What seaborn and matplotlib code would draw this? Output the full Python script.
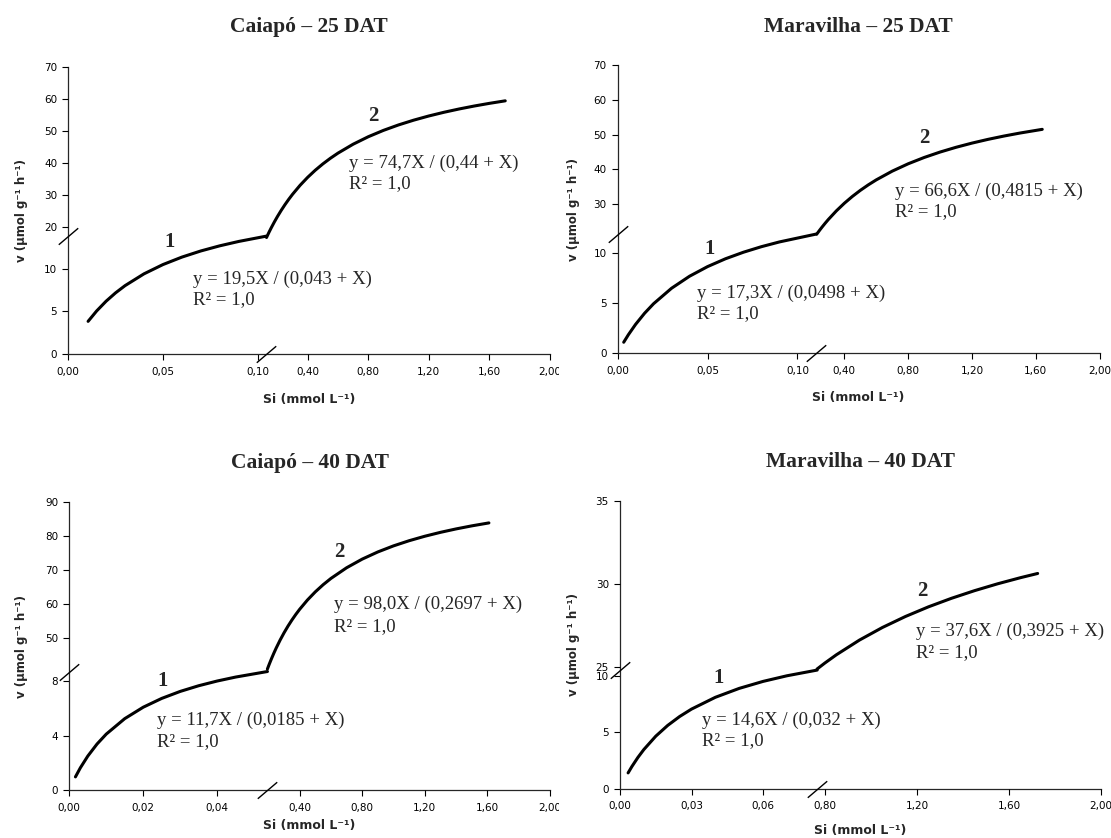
import numpy as np
import pandas as pd
import matplotlib
matplotlib.use("Agg")
import matplotlib.pyplot as plt
from matplotlib.path import Path
from matplotlib.transforms import Bbox, TransformedBbox
import seaborn as sns

# ---------------- data ----------------
# Caiapó – 25 DAT
c25_x1 = [0.0105, 0.015, 0.02, 0.025, 0.03, 0.04, 0.05, 0.06, 0.07, 0.08, 0.09, 0.1045]
c25_y1 = [3.827, 5.043, 6.190, 7.169, 8.014, 9.398, 10.484, 11.359, 12.080, 12.683, 13.195, 13.815]
c25_x2 = [0.128, 0.145, 0.16, 0.18, 0.2, 0.225, 0.25, 0.275, 0.3, 0.35, 0.4, 0.45, 0.5, 0.55,
          0.6, 0.7, 0.8, 0.9, 1.0, 1.1, 1.2, 1.3, 1.4, 1.5, 1.6, 1.705]
c25_y2 = [16.834, 18.515, 19.92, 21.687, 23.344, 25.274, 27.065, 28.731, 30.284, 33.095, 35.571,
          37.770, 39.734, 41.5, 43.096, 45.868, 48.194, 50.172, 51.875, 53.357, 54.659, 55.810,
          56.837, 57.758, 58.588, 59.377]

# Maravilha – 25 DAT
m25_x1 = [0.0034, 0.006, 0.01, 0.015, 0.02, 0.03, 0.04, 0.05, 0.06, 0.07, 0.08, 0.09, 0.1106]
m25_y1 = [1.106, 1.860, 2.893, 4.005, 4.957, 6.504, 7.706, 8.667, 9.454, 10.108, 10.663, 11.137, 11.929]
m25_x2 = [0.227, 0.245, 0.26, 0.28, 0.3, 0.35, 0.4, 0.45, 0.5, 0.55, 0.6, 0.7, 0.8, 0.9, 1.0,
          1.1, 1.2, 1.3, 1.4, 1.5, 1.64]
m25_y2 = [21.338, 22.460, 23.353, 24.488, 25.566, 28.034, 30.221, 32.174, 33.928, 35.511, 36.949,
          39.458, 41.576, 43.387, 44.954, 46.323, 47.529, 48.600, 49.556, 50.416, 51.484]

# Caiapó – 40 DAT
c40_x1 = [0.00166, 0.003, 0.005, 0.0075, 0.01, 0.015, 0.02, 0.025, 0.03, 0.035, 0.04, 0.045, 0.0536]
c40_y1 = [0.963, 1.633, 2.489, 3.375, 4.105, 5.239, 6.078, 6.724, 7.237, 7.654, 8.0, 8.291, 8.698]
c40_x2 = [0.1935, 0.205, 0.22, 0.235, 0.25, 0.275, 0.3, 0.325, 0.35, 0.375, 0.4, 0.45, 0.5, 0.55,
          0.6, 0.7, 0.8, 0.9, 1.0, 1.1, 1.2, 1.3, 1.4, 1.5, 1.61]
c40_y2 = [40.939, 42.322, 44.027, 45.631, 47.143, 49.477, 51.606, 53.557, 55.349, 57.003, 58.534,
          61.276, 63.661, 65.756, 67.610, 70.744, 73.292, 75.404, 77.184, 78.703, 80.016, 81.162,
          82.170, 83.065, 83.939]

# Maravilha – 40 DAT
m40_x1 = [0.0034, 0.005, 0.0075, 0.01, 0.015, 0.02, 0.025, 0.03, 0.04, 0.05, 0.06, 0.07, 0.0827]
m40_y1 = [1.402, 1.973, 2.772, 3.476, 4.660, 5.615, 6.404, 7.065, 8.111, 8.902, 9.522, 10.020, 10.527]
m40_x2 = [0.766, 0.8, 0.85, 0.95, 1.05, 1.15, 1.25, 1.35, 1.45, 1.55, 1.65, 1.724]
m40_y2 = [24.861, 25.224, 25.722, 26.607, 27.369, 28.032, 28.615, 29.130, 29.590, 30.003, 30.375, 30.627]

titles = ["Caiapó – 25 DAT", "Maravilha – 25 DAT", "Caiapó – 40 DAT", "Maravilha – 40 DAT"]
eq1_labels = ["y = 19,5X / (0,043 + X)", "y = 17,3X / (0,0498 + X)",
              "y = 11,7X / (0,0185 + X)", "y = 14,6X / (0,032 + X)"]
eq2_labels = ["y = 74,7X / (0,44 + X)", "y = 66,6X / (0,4815 + X)",
              "y = 98,0X / (0,2697 + X)", "y = 37,6X / (0,3925 + X)"]
r2_label = "R² = 1,0"

xA_ticks = [[0.0, 0.05, 0.10], [0.0, 0.05, 0.10], [0.0, 0.02, 0.04], [0.0, 0.03, 0.06]]
xA_ticklabels = [["0,00", "0,05", "0,10"], ["0,00", "0,05", "0,10"],
                 ["0,00", "0,02", "0,04"], ["0,00", "0,03", "0,06"]]
xB_ticks = [[0.4, 0.8, 1.2, 1.6, 2.0], [0.4, 0.8, 1.2, 1.6, 2.0],
            [0.4, 0.8, 1.2, 1.6, 2.0], [0.8, 1.2, 1.6, 2.0]]
xB_ticklabels = [["0,40", "0,80", "1,20", "1,60", "2,00"], ["0,40", "0,80", "1,20", "1,60", "2,00"],
                 ["0,40", "0,80", "1,20", "1,60", "2,00"], ["0,80", "1,20", "1,60", "2,00"]]
yA_ticks = [[0, 5, 10], [0, 5, 10], [0, 4, 8], [0, 5, 10]]
yB_ticks = [[20, 30, 40, 50, 60, 70], [30, 40, 50, 60, 70], [50, 60, 70, 80, 90], [25, 30, 35]]

# ---------------- style ----------------
sns.set_style("ticks")
plt.rcParams['font.family'] = ['DejaVu Sans']
plt.rcParams['axes.linewidth'] = 0.9

W, H = 1111, 838
fig = plt.figure(figsize=(W / 100, H / 100), dpi=100)

# layout (pixels: left, top, right, bottom) and scale limits
layout = [
    dict(rect=(68.2, 66.7, 549.9, 354.0), xA=0.2542, yA=33.68, xB=(-1.182, 2.0), yB=(-19.43, 70),
         title_y=27, xl_off=45, yl_off=46.5,
         n2=(0.633, 0.828), n1=(0.210, 0.389), e2=(0.583, 0.664, 0.592), e1=(0.259, 0.260, 0.188)),
    dict(rect=(617.6, 65.0, 1099.7, 353.3), xA=0.2681, yA=28.83, xB=(-1.021, 2.0), yB=(-12.96, 70),
         title_y=27, xl_off=44, yl_off=44,
         n2=(0.637, 0.748), n1=(0.190, 0.362), e2=(0.575, 0.563, 0.491), e1=(0.164, 0.208, 0.136)),
    dict(rect=(69.3, 502.3, 549.9, 790.0), xA=0.1300, yA=21.12, xB=(-1.073, 2.0), yB=(5.38, 90),
         title_y=463, xl_off=35, yl_off=47.8,
         n2=(0.562, 0.826), n1=(0.194, 0.379), e2=(0.550, 0.645, 0.568), e1=(0.182, 0.243, 0.168)),
    dict(rect=(620.0, 501.0, 1101.2, 788.7), xA=0.2018, yA=25.53, xB=(-0.0898, 2.0), yB=(17.64, 35),
         title_y=462, xl_off=42, yl_off=46,
         n2=(0.629, 0.687), n1=(0.204, 0.384), e2=(0.615, 0.546, 0.474), e1=(0.171, 0.239, 0.167)),
]
series = [(c25_x1, c25_y1, c25_x2, c25_y2), (m25_x1, m25_y1, m25_x2, m25_y2),
          (c40_x1, c40_y1, c40_x2, c40_y2), (m40_x1, m40_y1, m40_x2, m40_y2)]

slash = Path([(-1.0, -0.85), (1.0, 0.85)])
serif = 'Liberation Serif'

for i, (p, (x1, y1, x2, y2)) in enumerate(zip(layout, series)):
    l, t, r, b = p['rect']
    wpx, hpx = r - l, b - t
    rect = [l / W, 1 - b / H, wpx / W, hpx / H]
    axA = fig.add_axes(rect)
    axB = fig.add_axes(rect, facecolor='none')

    dfA = pd.DataFrame({'x': x1, 'y': y1})
    dfB = pd.DataFrame({'x': x2, 'y': y2})
    sns.lineplot(data=dfA, x='x', y='y', ax=axA, color='black', linewidth=2.2, sort=False)
    sns.lineplot(data=dfB, x='x', y='y', ax=axB, color='black', linewidth=2.2, sort=False)

    axA.set_xlim(0, p['xA'])
    axA.set_ylim(0, p['yA'])
    axB.set_xlim(*p['xB'])
    axB.set_ylim(*p['yB'])

    axA.set_xticks(xA_ticks[i], xA_ticklabels[i])
    axA.set_yticks(yA_ticks[i], [str(v) for v in yA_ticks[i]])
    axB.set_xticks(xB_ticks[i], xB_ticklabels[i])
    axB.set_yticks(yB_ticks[i], [str(v) for v in yB_ticks[i]])

    for ax in (axA, axB):
        ax.tick_params(axis='both', direction='out', length=4, width=0.8,
                       labelsize=7.5, colors='black')
        ax.tick_params(axis='x', pad=5)
        ax.tick_params(axis='y', pad=4)
        ax.set_xlabel('')
        ax.set_ylabel('')
    for s in ('top', 'right'):
        axA.spines[s].set_visible(False)
    for s in axB.spines.values():
        s.set_visible(False)

    # broken-axis marks at the junction of the two segments
    xj, yj = x1[-1], y1[-1]
    for px, py in ((xj, 0), (0, yj)):
        axA.plot([px], [py], marker=slash, ms=14, mew=1.0, color='black',
                 mfc='none', clip_on=False, zorder=6, linestyle='none')

    # axis labels
    axA.set_xlabel('Si (mmol L⁻¹)', fontsize=9, fontweight='bold', va='center')
    axA.xaxis.set_label_coords(0.5, -p['xl_off'] / hpx)
    axA.set_ylabel('v (µmol g⁻¹ h⁻¹)', fontsize=8.5, fontweight='bold', va='center')
    axA.yaxis.set_label_coords(-p['yl_off'] / wpx, 0.5)

    # annotations
    axB.text(p['n2'][0], p['n2'][1], '2', transform=axB.transAxes, ha='center', va='center',
             family=serif, fontweight='bold', fontsize=15)
    axB.text(p['n1'][0], p['n1'][1], '1', transform=axB.transAxes, ha='center', va='center',
             family=serif, fontweight='bold', fontsize=15)
    axB.text(p['e2'][0], p['e2'][1], eq2_labels[i], transform=axB.transAxes, ha='left',
             va='center', family=serif, fontsize=13.5)
    axB.text(p['e2'][0], p['e2'][2], r2_label, transform=axB.transAxes, ha='left',
             va='center', family=serif, fontsize=13.5)
    axB.text(p['e1'][0], p['e1'][1], eq1_labels[i], transform=axB.transAxes, ha='left',
             va='center', family=serif, fontsize=13.5)
    axB.text(p['e1'][0], p['e1'][2], r2_label, transform=axB.transAxes, ha='left',
             va='center', family=serif, fontsize=13.5)

    fig.text((l + r) / 2 / W, 1 - p['title_y'] / H, titles[i], ha='center', va='center',
             family=serif, fontweight='bold', fontsize=15.5)

    # the left panels' last tick label is cut by the panel edge in the original
    if i in (0, 2):
        clip = TransformedBbox(Bbox([[0, 0], [559 / W, 1]]), fig.transFigure)
        for lbl in axB.get_xticklabels():
            lbl.set_clip_box(clip)
            lbl.set_clip_on(True)

fig.savefig('out.png', dpi=100)
